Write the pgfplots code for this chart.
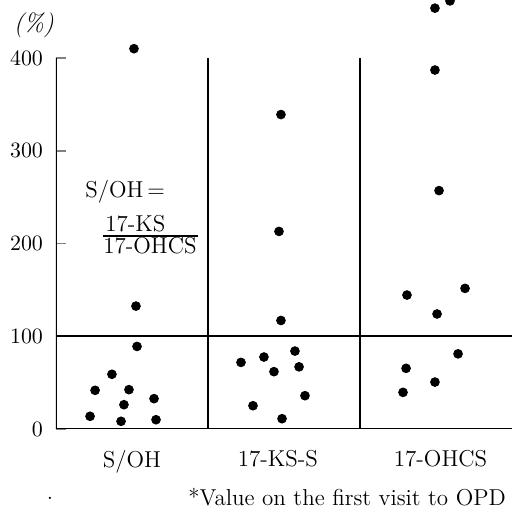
\documentclass[border=0pt]{standalone}
\usepackage{pgfplots}
\pgfplotsset{compat=1.18}
\begin{document}
\begin{tikzpicture}
\begin{axis}[name=ax,at={(0,0)},anchor=south west,
  scale only axis,width=228pt,height=214.5pt,
  xmin=0,xmax=3,ymin=0,ymax=462.5,clip=true,
  axis line style={draw=none},
  ytick={0,100,200,300,400},ytick pos=left,tick align=inside,
  major tick length=5pt,ytick style={line width=0.8pt},
  yticklabel style={font=\fontsize{10.5}{12}\selectfont,xshift=-3pt},
  xtick={0.5,1.46,2.53},xticklabels={S/OH,17-KS-S,17-OHCS},
  xtick style={draw=none},
  xticklabel style={font=\fontsize{11.5}{13}\selectfont,yshift=-7pt}]
% frame lines
\addplot[black,line width=0.8pt] coordinates {(0,0)(0,400)};
\addplot[black,line width=0.8pt] coordinates {(1,0)(1,400)};
\addplot[black,line width=0.8pt] coordinates {(2,0)(2,400)};
\addplot[black,line width=0.8pt] coordinates {(0,0)(3,0)};
\addplot[black,line width=0.8pt] coordinates {(0,100)(3,100)};
% S/OH
\addplot[only marks,mark=*,mark size=2.2pt,black] coordinates {
(0.513,410)(0.526,132.5)(0.533,89)(0.368,59)(0.257,41.7)(0.480,42.4)
(0.645,32.7)(0.447,26.2)(0.224,13.7)(0.428,8.3)(0.658,10)};
% 17-KS-S
\addplot[only marks,mark=*,mark size=2.2pt,black] coordinates {
(1.480,339)(1.467,213)(1.480,117)(1.217,71.8)(1.368,77.6)(1.572,84)
(1.434,61.8)(1.599,67)(1.638,35.9)(1.296,25.1)(1.487,11.1)};
% 17-OHCS
\addplot[only marks,mark=*,mark size=2.2pt,black] coordinates {
(2.592,461.5)(2.493,453.7)(2.493,387)(2.520,257)(2.309,144.4)(2.691,151.6)
(2.507,124)(2.645,81)(2.303,65.4)(2.493,50.6)(2.283,39.5)};
\end{axis}
\node[font=\fontsize{12.5}{14}\selectfont\itshape] at (-11pt,202pt) {(\%)};
\node[anchor=west,inner sep=0pt,font=\fontsize{11.5}{13}\selectfont] at (14.5pt,118.5pt) {S/OH\,=};
\node[anchor=base west,inner sep=0pt,font=\fontsize{11.5}{13}\selectfont] at (24.5pt,98.5pt) {17-KS};
\draw[line width=0.6pt] (23.5pt,96.5pt) -- (71pt,96.5pt);
\node[anchor=base west,inner sep=0pt,font=\fontsize{11.5}{13}\selectfont] at (23.5pt,87.5pt) {17-OHCS};
\node[anchor=base west,inner sep=0pt,font=\fontsize{11.5}{13}\selectfont] at (66pt,-38pt) {*Value on the first visit to OPD};
\node[anchor=base,inner sep=0pt,font=\fontsize{11.5}{13}\selectfont] at (-3pt,-35pt) {.};
\pgfresetboundingbox
\path[use as bounding box] (-28pt,-42pt) rectangle (228pt,214.5pt);
\end{tikzpicture}
\end{document}
